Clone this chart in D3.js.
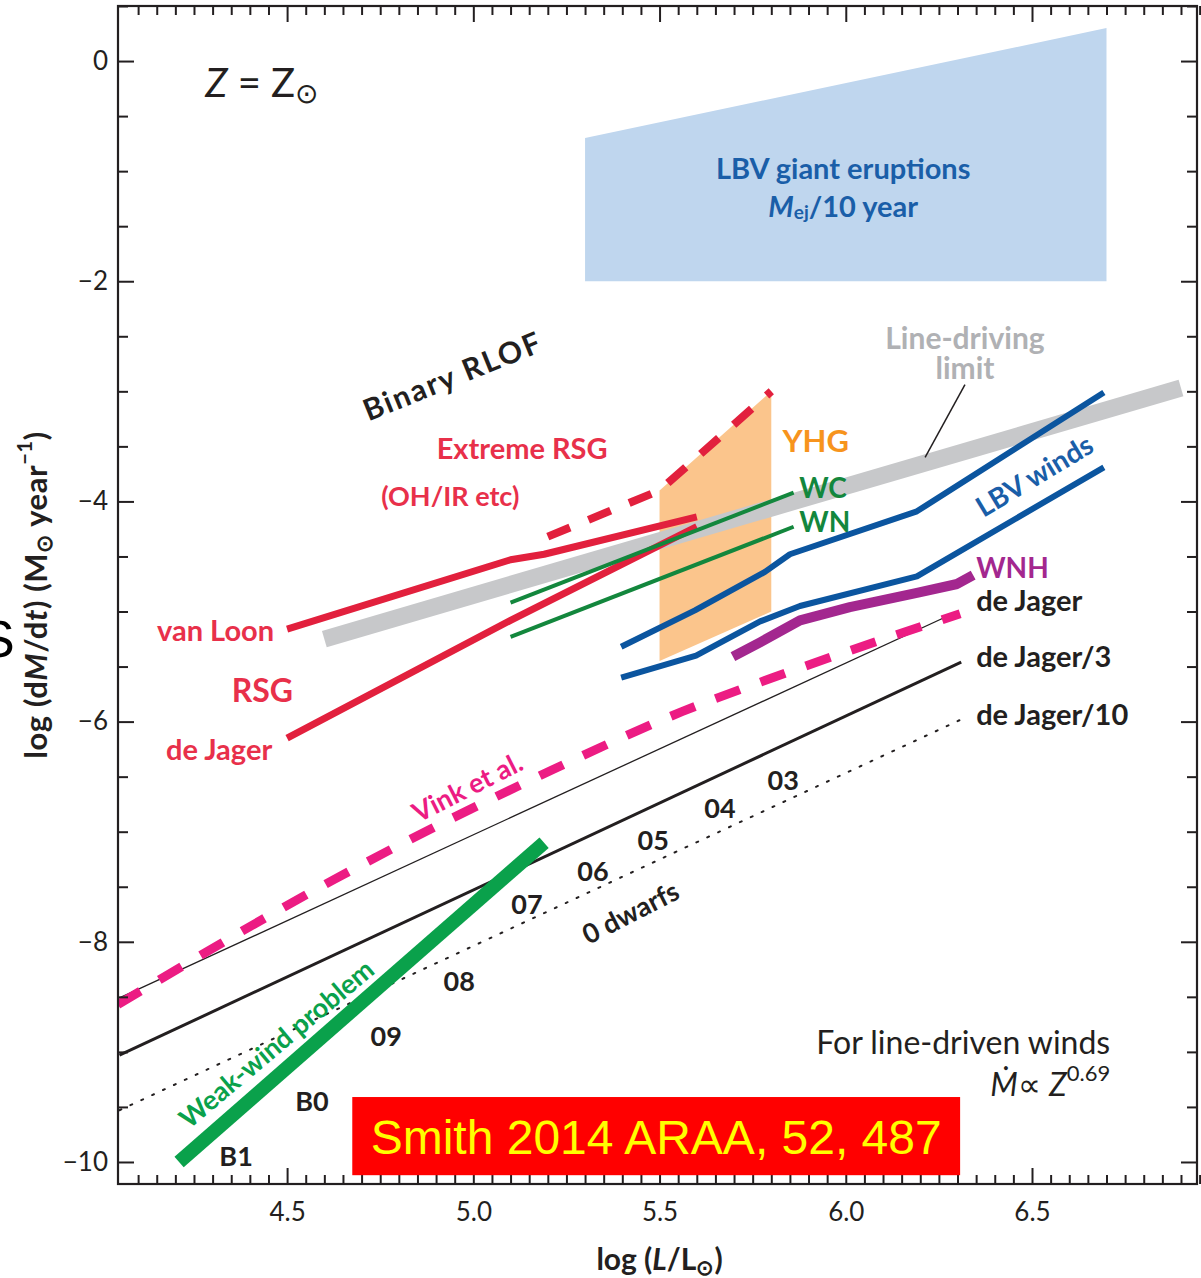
<!DOCTYPE html>
<html><head><meta charset="utf-8">
<script src="https://cdn.jsdelivr.net/npm/d3@7"></script>
<style>body{margin:0;background:#fff;} svg{display:block;} text{font-family:Lato,"Open Sans",sans-serif;}</style>
</head><body><svg id="c" width="1201" height="1278"></svg>
<script>
// ---------- data (log L/Lsun, log Mdot) ----------
const xTicks = [4.5, 5.0, 5.5, 6.0, 6.5];
const yTicks = [0, -2, -4, -6, -8, -10];
const lbvEruption   = [[5.3,-0.7],[6.7,0.3],[6.7,-2.0],[5.3,-2.0]];
const yhgRegion     = [[5.5,-3.9],[5.8,-3.0],[5.8,-5.0],[5.5,-5.45]];
const lineDrivingLimit = [[4.6,-5.25],[6.9,-2.97]];
const rsgVanLoon    = [[4.5,-5.16],[5.1,-4.53],[5.19,-4.48],[5.6,-4.14]];
const rsgDeJager    = [[4.5,-6.15],[5.1,-5.08],[5.6,-4.23]];
const extremeRSG    = [[5.2,-4.32],[5.5,-3.9],[5.8,-3.0]];
const wcLine        = [[5.1,-4.92],[5.86,-3.92]];
const wnLine        = [[5.1,-5.23],[5.86,-4.23]];
const lbvWindsUpper = [[5.397,-5.32],[5.595,-4.99],[5.783,-4.64],[5.85,-4.48],[6.191,-4.09],[6.693,-3.01]];
const lbvWindsLower = [[5.397,-5.6],[5.598,-5.40],[5.77,-5.09],[5.877,-4.95],[6.191,-4.68],[6.693,-3.69]];
const wnhLine       = [[5.697,-5.41],[5.77,-5.28],[5.877,-5.08],[6.011,-4.96],[6.191,-4.83],[6.299,-4.75],[6.342,-4.67]];
const vinkLine      = [[4.046,-8.57],[4.623,-7.44],[5.211,-6.44],[5.56,-5.91],[5.805,-5.6],[6.307,-5.02]];
const deJagerLine   = [[4.05,-8.51],[6.3,-5.0]];
const deJager3Line  = [[4.05,-9.03],[6.31,-5.46]];
const deJager10Line = [[4.05,-9.53],[6.31,-5.98]];
const weakWindLine  = [[4.21,-10.0],[5.19,-7.1]];
const spectralTypes = ["03","04","05","06","07","08","09","B0","B1"];
const spectralX     = [5.832,5.662,5.483,5.321,5.144,4.962,4.766,4.567,4.363];
const spectralY     = [-6.53,-6.78,-7.07,-7.35,-7.65,-8.35,-8.85,-9.44,-9.94];

// ---------- layout ----------
const L = 118, R = 1197, T = 6, B = 1184;
const x = d3.scaleLinear().domain([4.046, 6.943]).range([L, R]);
const y = d3.scaleLinear().domain([-10.2, 0.5]).range([B, T]);
const svg = d3.select("#c");
const ink = "#231f20";

svg.append("defs").append("clipPath").attr("id","clip")
  .append("rect").attr("x",L).attr("y",T).attr("width",R-L).attr("height",B-T);
const g = svg.append("g").attr("clip-path","url(#clip)");

const line = d3.line().x(d=>x(d[0])).y(d=>y(d[1]));
const smooth = d3.line().x(d=>x(d[0])).y(d=>y(d[1])).curve(d3.curveMonotoneX);
const poly = pts => "M" + pts.map(d=>x(d[0])+","+y(d[1])).join("L") + "Z";

g.append("path").attr("d", poly(lbvEruption)).attr("fill","#bfd6ee");
g.append("path").attr("d", poly(yhgRegion)).attr("fill","#fbc58c");

function draw(data, color, w, opts={}) {
  const p = g.append("path").datum(data).attr("d", opts.curve ? smooth : line)
    .attr("fill","none").attr("stroke",color).attr("stroke-width",w)
    .attr("stroke-linecap", opts.cap || "butt").attr("stroke-linejoin","round");
  if (opts.dash) p.attr("stroke-dasharray", opts.dash);
  return p;
}
draw(lineDrivingLimit, "#c7c8ca", 17);
draw(rsgVanLoon, "#e2203d", 7);
draw(rsgDeJager, "#e2203d", 7);
draw(extremeRSG, "#e2203d", 8, {dash:"24,20"});
draw(wcLine, "#13873d", 4);
draw(wnLine, "#13873d", 4);
draw(lbvWindsUpper, "#0b559f", 6);
draw(lbvWindsLower, "#0b559f", 6);
draw(wnhLine, "#a3278f", 10);
draw(deJager10Line, ink, 2, {dash:"2,10", cap:"round"});
draw(deJagerLine, ink, 1.3);
draw(deJager3Line, ink, 3);
draw(vinkLine, "#ec1c83", 9, {dash:"26,22", curve:true});
draw(weakWindLine, "#0aa14b", 14);

svg.append("line").attr("x1",x(6.32)).attr("y1",y(-2.94)).attr("x2",x(6.213)).attr("y2",y(-3.6))
  .attr("stroke",ink).attr("stroke-width",1.5);

// ---------- axes ----------
const fmtX = d3.format(".1f"), fmtY = d3.format("d");
const minorX = d3.range(4.1, 6.95, 0.05).filter(v => Math.abs(v*2 - Math.round(v*2)) > 1e-6);
const minorY = d3.range(0.5, -10.21, -0.5).filter(v => Math.abs(v/2 - Math.round(v/2)) > 1e-6);
function styleAxis(sel){
  sel.selectAll("path.domain").remove();
  sel.selectAll("line").attr("stroke",ink).attr("stroke-width",2);
  sel.selectAll("text").attr("fill",ink).style("font-size","26px").style("font-family","Lato, sans-serif");
}
svg.append("g").attr("transform",`translate(0,${B})`)
  .call(d3.axisBottom(x).tickValues(xTicks).tickFormat(fmtX).tickSize(-16).tickPadding(19)).call(styleAxis);
svg.append("g").attr("transform",`translate(0,${B})`)
  .call(d3.axisBottom(x).tickValues(minorX).tickFormat("").tickSize(-9)).call(styleAxis);
svg.append("g").attr("transform",`translate(0,${T})`)
  .call(d3.axisTop(x).tickValues(xTicks).tickFormat("").tickSize(-16)).call(styleAxis);
svg.append("g").attr("transform",`translate(0,${T})`)
  .call(d3.axisTop(x).tickValues(minorX).tickFormat("").tickSize(-9)).call(styleAxis);
svg.append("g").attr("transform",`translate(${L},0)`)
  .call(d3.axisLeft(y).tickValues(yTicks).tickFormat(fmtY).tickSize(-16).tickPadding(10)).call(styleAxis);
svg.append("g").attr("transform",`translate(${L},0)`)
  .call(d3.axisLeft(y).tickValues(minorY).tickFormat("").tickSize(-10)).call(styleAxis);
svg.append("g").attr("transform",`translate(${R},0)`)
  .call(d3.axisRight(y).tickValues(yTicks).tickFormat("").tickSize(-16)).call(styleAxis);
svg.append("g").attr("transform",`translate(${R},0)`)
  .call(d3.axisRight(y).tickValues(minorY).tickFormat("").tickSize(-10)).call(styleAxis);
svg.append("rect").attr("x",L).attr("y",T).attr("width",R-L).attr("height",B-T)
  .attr("fill","none").attr("stroke",ink).attr("stroke-width",2.2);

// ---------- labels ----------
function label(txt, xv, yv, o={}) {
  const t = svg.append("text")
    .attr("transform", `translate(${x(xv)},${y(yv)}) rotate(${o.rot||0})`)
    .attr("text-anchor", o.anchor || "middle").attr("dominant-baseline","central")
    .attr("fill", o.color || ink).style("font-size", (o.size||26)+"px")
    .style("font-weight", o.weight || 700);
  if (o.spacing) t.style("letter-spacing", o.spacing);
  if (txt !== null) t.text(txt);
  return t;
}
const blue="#1a5ea8", red="#e8304a";
label("LBV giant eruptions", 5.993, -0.964, {color:blue, size:29});
const mej = label(null, 5.993, -1.31, {color:blue, size:29});
mej.append("tspan").style("font-style","italic").text("M");
mej.append("tspan").attr("dy",6).style("font-size","19px").text("ej");
mej.append("tspan").attr("dy",-6).text("/10 year");

label("Line-driving", 6.32, -2.51, {color:"#b0b1b4", size:30});
label("limit", 6.32, -2.78, {color:"#b0b1b4", size:30});
label("Binary RLOF", 4.943, -2.85, {rot:-22, size:30, spacing:"2px"});
label("Extreme RSG", 5.131, -3.51, {color:red, size:29});
label("(OH/IR etc)", 4.938, -3.95, {color:red, size:27});
label("YHG", 5.83, -3.44, {color:"#f7941d", size:31, anchor:"start"});
label("WC", 5.875, -3.87, {color:"#13873d", size:28, anchor:"start"});
label("WN", 5.875, -4.18, {color:"#13873d", size:28, anchor:"start"});
label("LBV winds", 6.505, -3.76, {color:blue, size:28, rot:-31});
label("WNH", 6.35, -4.6, {color:"#a3278f", size:28, anchor:"start"});
label("de Jager", 6.35, -4.89, {size:29, anchor:"start"});
label("de Jager/3", 6.35, -5.4, {size:29, anchor:"start"});
label("de Jager/10", 6.35, -5.93, {size:29, anchor:"start"});
label("van Loon", 4.465, -5.16, {color:red, size:29, anchor:"end"});
label("RSG", 4.516, -5.71, {color:red, size:32, anchor:"end"});
label("de Jager", 4.46, -6.24, {color:red, size:29, anchor:"end"});
label("Vink et al.", 4.983, -6.59, {color:"#ec1c83", size:27, rot:-27});
label("0 dwarfs", 5.421, -7.73, {size:27, rot:-27});
label("Weak-wind problem", 4.47, -8.92, {color:"#0aa14b", size:27, rot:-40});
spectralTypes.forEach((s,i)=>label(s, spectralX[i], spectralY[i], {size:27}));

label("For line-driven winds", 6.71, -8.91, {size:32, weight:400, anchor:"end"});
const md = label(null, 6.71, -9.28, {size:32, weight:400, anchor:"end"});
md.append("tspan").style("font-style","italic").text("Ṁ");
md.append("tspan").text("∝ ");
md.append("tspan").style("font-style","italic").text("Z");
md.append("tspan").attr("dy",-11).style("font-size","22px").text("0.69");

const zz = label(null, 4.28, -0.19, {size:40, weight:400, anchor:"start"});
zz.append("tspan").style("font-style","italic").text("Z");
zz.append("tspan").text(" = ");
zz.append("tspan").text("Z");
zz.append("tspan").attr("dy",10).style("font-size","28px").text("⊙");

const xt = svg.append("text").attr("x", x(5.5)).attr("y", 1258).attr("text-anchor","middle")
  .attr("dominant-baseline","central").attr("fill",ink).style("font-size","30px").style("font-weight",700);
xt.append("tspan").text("log (");
xt.append("tspan").style("font-style","italic").text("L");
xt.append("tspan").text("/L");
xt.append("tspan").attr("dy",8).style("font-size","21px").text("⊙");
xt.append("tspan").attr("dy",-8).text(")");

const yt = svg.append("text").attr("transform","translate(35,595) rotate(-90)").attr("text-anchor","middle")
  .attr("dominant-baseline","central").attr("fill",ink).style("font-size","31px").style("font-weight",700)
  .style("letter-spacing","0.6px");
yt.append("tspan").text("log (d");
yt.append("tspan").style("font-style","italic").text("M");
yt.append("tspan").text("/d");
yt.append("tspan").style("font-style","italic").text("t");
yt.append("tspan").text(") (M");
yt.append("tspan").attr("dy",8).style("font-size","22px").text("⊙");
yt.append("tspan").attr("dy",-8).text(" year");
yt.append("tspan").attr("dy",-11).style("font-size","20px").text("−1");
yt.append("tspan").attr("dy",11).text(")");

svg.append("text").attr("x",-20).attr("y",657).style("font-family","Liberation Sans, Arial, sans-serif")
  .style("font-size","52px").attr("fill","#000").text("S");

// citation box
svg.append("rect").attr("x", x(4.675)).attr("y", y(-9.41)).attr("width", x(6.307)-x(4.675))
  .attr("height", y(-10.12)-y(-9.41)).attr("fill","#ff0000");
svg.append("text").attr("x", (x(4.675)+x(6.307))/2).attr("y", (y(-9.41)+y(-10.12))/2 + 1)
  .attr("text-anchor","middle").attr("dominant-baseline","central")
  .style("font-family","Liberation Sans, Arial, sans-serif").style("font-size","48px")
  .attr("fill","#ffff00").text("Smith 2014 ARAA, 52, 487");
</script></body></html>
